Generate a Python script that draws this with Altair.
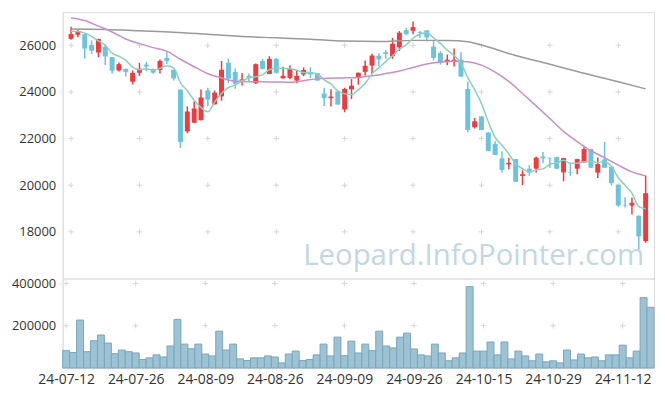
import json
import altair as alt
import pandas as pd

dates = ["24-07-12","24-07-15","24-07-16","24-07-17","24-07-18","24-07-19","24-07-22","24-07-23","24-07-24","24-07-25",
         "24-07-26","24-07-29","24-07-30","24-07-31","24-08-01","24-08-02","24-08-05","24-08-06","24-08-07","24-08-08",
         "24-08-09","24-08-12","24-08-13","24-08-14","24-08-16","24-08-19","24-08-20","24-08-21","24-08-22","24-08-23",
         "24-08-26","24-08-27","24-08-28","24-08-29","24-08-30","24-09-02","24-09-03","24-09-04","24-09-05","24-09-06",
         "24-09-09","24-09-10","24-09-11","24-09-12","24-09-13","24-09-19","24-09-20","24-09-23","24-09-24","24-09-25",
         "24-09-26","24-09-27","24-09-30","24-10-02","24-10-04","24-10-07","24-10-08","24-10-10","24-10-11","24-10-14",
         "24-10-15","24-10-16","24-10-17","24-10-18","24-10-21","24-10-22","24-10-23","24-10-24","24-10-25","24-10-28",
         "24-10-29","24-10-30","24-10-31","24-11-01","24-11-04","24-11-05","24-11-06","24-11-07","24-11-08","24-11-11",
         "24-11-12","24-11-13","24-11-14","24-11-15","24-11-18"]

opens = [26280,26450,26480,26010,25690,25930,25490,24920,24990,24440,
         24820,25170,24980,24940,25460,24950,24100,22310,22680,22790,
         24060,23470,23810,25250,24860,24440,24690,24370,25330,24770,
         25420,24580,24600,24490,24750,24850,24810,23930,23730,24030,
         23250,24110,24600,24860,25130,25550,25700,25530,25910,26650,
         26620,26570,26640,25940,25670,25280,25290,25380,24130,22490,
         22950,22260,21770,21150,20890,21120,20400,20710,20710,21230,
         21180,21210,20550,20570,20710,20980,21550,20540,21110,20790,
         20020,19130,19130,18690,17600]
highs = [26790,26660,26490,26210,26280,26040,25500,25260,25000,24920,
         25250,25290,25000,25390,25750,24960,24110,23380,23590,24100,
         24180,24060,25330,25430,25000,24810,24790,25220,25420,25530,
         25440,25080,25130,24920,25050,25050,24820,24180,24110,24040,
         24180,24550,24830,25350,25640,25660,25790,26310,26610,26750,
         27020,26610,26650,26170,25750,25600,25860,25700,24440,22880,
         22960,22270,21890,21460,21180,21130,20640,20860,21230,21420,
         21180,21220,21170,20960,21130,21690,21560,21190,21860,20800,
         20030,19480,19460,18700,20420]
lows = [26240,26340,25430,25630,25490,25150,24790,24880,24660,24320,
        24680,24890,24780,24790,25190,24490,21600,22230,22670,22780,
        23400,23460,23620,24370,24140,24270,24470,24340,24960,24760,
        24790,24580,24540,24370,24680,24600,24480,23400,23380,23450,
        23130,23700,24310,24690,24780,25110,25420,25420,25750,26430,
        26470,26320,26170,25350,25170,25150,25090,24650,22270,22430,
        22360,21460,21300,20550,20680,20140,20010,20400,20550,20940,
        20750,20700,20170,20400,20470,20970,20740,20310,20740,19990,
        19080,19040,18740,17240,17530]
closes = [26480,26600,25860,25770,26270,25520,24910,25190,24860,24820,
          24990,25090,24830,25330,25330,24580,21860,23160,23290,23760,
          23670,23970,24950,24570,24350,24540,24610,25190,24990,25420,
          24820,24690,25000,24690,24940,24750,24490,23730,23800,23460,
          24130,24270,24820,25120,25560,25390,25630,26060,26540,26480,
          26780,26540,26340,25460,25260,25380,25380,24660,22370,22740,
          22370,21470,21300,20660,20960,20150,20470,20550,21180,21150,
          21150,20710,21160,20540,21120,21550,20750,20910,20750,20090,
          19130,19110,19250,17810,19660]
volumes = [82000,73000,227000,77000,129000,156000,118000,68000,85000,77000,
           71000,40000,48000,62000,52000,104000,230000,113000,91000,113000,
           66000,57000,174000,85000,113000,43000,35000,48000,48000,57000,
           52000,24000,66000,80000,35000,40000,62000,113000,57000,146000,
           58000,127000,71000,113000,82000,174000,104000,95000,146000,165000,
           90000,62000,57000,113000,71000,34000,48000,71000,385000,80000,
           80000,123000,62000,123000,43000,80000,57000,34000,66000,29000,
           34000,24000,85000,38000,66000,48000,52000,34000,62000,62000,
           108000,48000,80000,333000,287000]
ma5 = [26600,26590,26520,26380,26190,26000,25660,25530,25350,25060,
       24950,24990,24920,25010,25120,25030,24390,24050,23640,23330,
       23150,23570,23930,24180,24300,24480,24600,24650,24740,24950,
       25010,25020,24990,24930,24830,24820,24780,24520,24340,24050,
       23920,23880,24100,24360,24780,25030,25300,25550,25830,26020,
       26300,26480,26530,26320,26080,25790,25560,25230,24610,24100,
       23500,22720,22050,21710,21350,20910,20710,20560,20660,20700,
       20900,20950,21070,20940,20940,21010,21020,20970,21010,20810,
       20320,20000,19660,19080,18990]
ma20_idx = list(range(0, 85, 2))
ma20 = [27170,27060,26820,26570,26270,26070,25900,25750,25400,25080,
        24780,24600,24460,24440,24440,24430,24410,24480,24570,24590,
        24600,24620,24690,24790,24900,25050,25200,25280,25320,25290,
        25150,24850,24450,23930,23400,22860,22310,21870,21480,21180,
        20860,20570,20400]
ma120_idx = [0, 5, 10, 15, 20, 25, 30, 35, 40, 45, 50, 55, 58, 60, 65, 70, 75, 80, 84]
ma120 = [26700,26680,26620,26560,26470,26380,26320,26260,26180,26160,
         26210,26200,26150,26010,25560,25190,24800,24440,24130]

price_ticks = [18000, 20000, 22000, 24000, 26000]
volume_ticks = [200000, 400000]
date_tick_idx = [0, 10, 20, 30, 40, 50, 60, 70, 80]

UP = "#ef3a3f"
DOWN = "#6cc3dc"
FONT = "Open Sans"
N = len(dates)

df = pd.DataFrame({"i": list(range(N)), "date": dates, "open": opens, "high": highs,
                   "low": lows, "close": closes, "volume": volumes})
df_ma5 = pd.DataFrame({"i": list(range(N)), "v": ma5})
df_ma20 = pd.DataFrame({"i": ma20_idx, "v": ma20})
df_ma120 = pd.DataFrame({"i": ma120_idx, "v": ma120})
cross_price = pd.DataFrame([{"i": a, "v": b} for a in date_tick_idx for b in price_ticks])
cross_vol = pd.DataFrame([{"i": a, "v": b} for a in date_tick_idx for b in volume_ticks])

label_expr = json.dumps([dates[k] for k in date_tick_idx]) + "[round(datum.value/10)]"

W = 595
xscale = alt.Scale(domain=[-0.5, N - 0.5], nice=False, zero=False)
pscale = alt.Scale(domain=[16000, 27420], nice=False, zero=False)
vscale = alt.Scale(domain=[0, 423500], nice=False)

x_hidden = lambda f="i": alt.X(f"{f}:Q", scale=xscale, axis=None, title=None)
x_bottom = lambda f="i": alt.X(f"{f}:Q", scale=xscale, title=None,
                               axis=alt.Axis(values=date_tick_idx, labelExpr=label_expr, grid=False,
                                             ticks=False, domain=False, labelFlush=False,
                                             labelFont=FONT, labelFontSize=14, labelColor="#333",
                                             labelPadding=5, labelOverlap=False))
py_axis = alt.Axis(values=price_ticks, format="d", grid=False, ticks=False, domainColor="#dedede",
                   labelFont=FONT, labelFontSize=13, labelColor="#333", labelPadding=7)
vy_axis = alt.Axis(values=volume_ticks, format="d", grid=False, ticks=False, domainColor="#dedede",
                   labelFont=FONT, labelFontSize=13, labelColor="#333", labelPadding=7)
py = lambda f: alt.Y(f"{f}:Q", scale=pscale, axis=py_axis, title=None)
vy = lambda f: alt.Y(f"{f}:Q", scale=vscale, axis=vy_axis, title=None)

CROSS = "M-1,0H1M0,-1V1"
candle_color = alt.condition(alt.datum.close >= alt.datum.open, alt.value(UP), alt.value(DOWN))

crosses_p = alt.Chart(cross_price).mark_point(shape=CROSS, size=30, filled=False, color="#d6d6d6",
                                              strokeWidth=1, opacity=1).encode(x=x_hidden(), y=py("v"))
watermark = alt.Chart(pd.DataFrame({"t": ["Leopard.InfoPointer.com"]})).mark_text(
    font=FONT, fontSize=29.5, color="#c3d7e4", align="right", baseline="alphabetic"
).encode(x=alt.value(585), y=alt.value(254), text="t:N")
wicks = alt.Chart(df).mark_rule(strokeWidth=1.5).encode(x=x_hidden(), y=py("low"), y2="high:Q",
                                                        color=candle_color)
bodies = alt.Chart(df).mark_bar(width=5).encode(x=x_hidden(), y=py("open"), y2="close:Q",
                                                color=candle_color)
line120 = alt.Chart(df_ma120).mark_line(color="#9a9a9a", strokeWidth=1.5, interpolate="monotone").encode(
    x=x_hidden(), y=py("v"))
line20 = alt.Chart(df_ma20).mark_line(color="#c98fc6", strokeWidth=1.5, interpolate="monotone").encode(
    x=x_hidden(), y=py("v"))
line5 = alt.Chart(df_ma5).mark_line(color="#8ccfbf", strokeWidth=1.5, interpolate="monotone").encode(
    x=x_hidden(), y=py("v"))

price = alt.layer(crosses_p, watermark, wicks, bodies, line120, line20, line5).properties(width=W, height=268)

crosses_v = alt.Chart(cross_vol).mark_point(shape=CROSS, size=30, filled=False, color="#d6d6d6",
                                            strokeWidth=1, opacity=1).encode(x=x_bottom(), y=vy("v"))
vbars = alt.Chart(df).transform_calculate(x0="datum.i - 0.5", x1="datum.i + 0.5", zero="0").mark_bar(
    color="#9cc2d3", stroke="#79a7bc", strokeWidth=1
).encode(x=x_bottom("x0"), x2="x1:Q", y=vy("volume"), y2="zero:Q")
volume = alt.layer(vbars, crosses_v).properties(width=W, height=90)

chart = alt.vconcat(price, volume, spacing=0, bounds="flush").properties(
    padding={"left": 2, "top": 2, "right": 2, "bottom": 2}
).configure_view(stroke="#e6e6e6", strokeWidth=1).configure(background="white")

chart.save("out.html", embed_options={"renderer": "svg", "actions": False})
